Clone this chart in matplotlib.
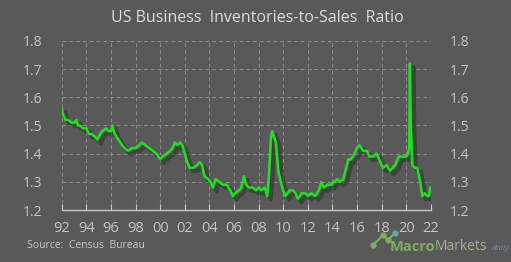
import numpy as np
import matplotlib
matplotlib.use("Agg")
import matplotlib.pyplot as plt
import matplotlib.patheffects as pe

# Inventories-to-sales ratio
years = [
    1992.0, 1992.1, 1992.3, 1992.5, 1992.8, 1993.0, 1993.2, 1993.3, 1993.5, 1993.7,
    1994.0, 1994.2, 1994.4, 1994.7, 1994.9, 1995.1, 1995.3, 1995.6, 1995.8, 1996.0,
    1996.1, 1996.3, 1996.6, 1996.9, 1997.1, 1997.4, 1997.7, 1998.0, 1998.3, 1998.5,
    1998.8, 1999.1, 1999.4, 1999.7, 2000.0, 2000.2, 2000.5, 2000.8, 2001.0, 2001.2,
    2001.4, 2001.6, 2001.8, 2002.0, 2002.2, 2002.4, 2002.7, 2003.0, 2003.2, 2003.4,
    2003.6, 2003.9, 2004.1, 2004.3, 2004.5, 2004.8, 2005.1, 2005.4, 2005.7, 2005.9,
    2006.1, 2006.4, 2006.6, 2006.8, 2007.0, 2007.2, 2007.5, 2007.8, 2008.0, 2008.2,
    2008.5, 2008.7, 2008.85, 2009.0, 2009.1, 2009.25, 2009.4, 2009.6, 2009.8, 2010.0,
    2010.2, 2010.5, 2010.8, 2011.0, 2011.2, 2011.5, 2011.8, 2012.0, 2012.3, 2012.6,
    2012.9, 2013.1, 2013.3, 2013.6, 2013.9, 2014.1, 2014.4, 2014.6, 2014.9, 2015.0,
    2015.3, 2015.5, 2015.8, 2016.0, 2016.2, 2016.5, 2016.8, 2017.0, 2017.3, 2017.6,
    2017.9, 2018.1, 2018.4, 2018.7, 2018.9, 2019.1, 2019.4, 2019.7, 2020.0, 2020.15,
    2020.25, 2020.3, 2020.38, 2020.5, 2020.7, 2020.9, 2021.0, 2021.15, 2021.3, 2021.5,
    2021.7, 2021.85, 2021.95,
]
ratio = [
    1.56, 1.54, 1.52, 1.52, 1.51, 1.51, 1.52, 1.50, 1.50, 1.49,
    1.49, 1.47, 1.47, 1.46, 1.45, 1.47, 1.48, 1.49, 1.48, 1.48,
    1.50, 1.47, 1.45, 1.43, 1.42, 1.41, 1.42, 1.42, 1.43, 1.44,
    1.43, 1.42, 1.41, 1.40, 1.38, 1.39, 1.40, 1.41, 1.42, 1.44,
    1.43, 1.44, 1.43, 1.40, 1.37, 1.35, 1.35, 1.36, 1.37, 1.36,
    1.32, 1.31, 1.30, 1.28, 1.31, 1.30, 1.29, 1.29, 1.27, 1.25,
    1.26, 1.27, 1.28, 1.32, 1.29, 1.28, 1.28, 1.27, 1.28, 1.27,
    1.28, 1.25, 1.33, 1.46, 1.48, 1.46, 1.44, 1.34, 1.30, 1.27,
    1.25, 1.27, 1.27, 1.26, 1.24, 1.26, 1.26, 1.25, 1.26, 1.25,
    1.27, 1.30, 1.28, 1.29, 1.29, 1.30, 1.31, 1.30, 1.31, 1.33,
    1.38, 1.38, 1.40, 1.42, 1.43, 1.41, 1.41, 1.39, 1.39, 1.40,
    1.37, 1.35, 1.36, 1.34, 1.35, 1.36, 1.39, 1.39, 1.39, 1.40,
    1.42, 1.72, 1.50, 1.36, 1.35, 1.35, 1.33, 1.30, 1.25, 1.26,
    1.25, 1.25, 1.28,
]
xtick_years = list(range(1992, 2023, 2))
xtick_labels = ["92", "94", "96", "98", "00", "02", "04", "06", "08", "10",
                "12", "14", "16", "18", "20", "22"]
yticks = [1.2, 1.3, 1.4, 1.5, 1.6, 1.7, 1.8]

bg = "#595959"
lab_col = "#c4c4c4"
plt.rcParams['font.family'] = ['Open Sans', 'DejaVu Sans']

fig = plt.figure(figsize=(5.11, 2.62), dpi=100, facecolor=bg)
ax = fig.add_axes([0.121, 0.198, 0.722, 0.646], facecolor=bg)

# line with a soft drop shadow
ax.plot(years, ratio, color="#1fe21f", lw=1.8, zorder=3,
        path_effects=[pe.SimpleLineShadow(offset=(2.5, -2.5), shadow_color="#2a2a2a", alpha=0.5, linewidth=3),
                      pe.Normal()])

ax.set_xlim(1992, 2022)
ax.set_ylim(1.2, 1.8)
ax.set_xticks(xtick_years)
ax.set_xticklabels(xtick_labels)
ax.set_yticks(yticks)
ax.set_yticklabels(["%.1f" % v for v in yticks])

for y in yticks[1:]:
    ax.axhline(y, color="#8c8c8c", lw=0.7, ls=(0, (4, 3)), zorder=1)
for x in xtick_years:
    ax.axvline(x, color="#8c8c8c", lw=0.7, ls=(0, (4, 3)), zorder=1)

for s in ["top", "left", "right"]:
    ax.spines[s].set_visible(False)
ax.spines["bottom"].set_color("#c8c8c8")
ax.spines["bottom"].set_linewidth(1.0)

ax.tick_params(axis="x", direction="in", length=4, width=0.8, colors="#c8c8c8",
               labelsize=10.5, pad=8)
ax.tick_params(axis="y", length=0, labelsize=10, pad=14,
               labelleft=True, labelright=True)
for lab in ax.get_xticklabels() + ax.get_yticklabels():
    lab.set_color(lab_col)

fig.text(0.503, 0.933, "US Business  Inventories-to-Sales  Ratio", ha="center", va="center",
         color="#dcdcdc", fontsize=11.5)
fig.text(0.053, 0.062, "Source:  Census  Bureau", ha="left", va="center",
         color="#c8c8c8", fontsize=7.5)

# logo (cut at the right edge, as in the original)
fig.lines.append(plt.Line2D([0.730, 0.750, 0.759, 0.773], [0.065, 0.103, 0.084, 0.111],
                            transform=fig.transFigure, color="#7fae5d", lw=1.5))
fig.lines.append(plt.Line2D([0.730, 0.750, 0.759], [0.065, 0.103, 0.084],
                            transform=fig.transFigure, color="#7fae5d", lw=0,
                            marker="o", markersize=3.5))
fig.lines.append(plt.Line2D([0.773], [0.111], transform=fig.transFigure, color="#5fa8a8",
                            lw=0, marker="o", markersize=3.5))
fig.text(0.762, 0.058, "Macro", ha="left", va="center", color="#7fae5d",
         fontsize=10.5, fontweight="bold")
fig.text(0.850, 0.058, "Markets", ha="left", va="center", color="#9db08f", fontsize=10)
fig.text(0.962, 0.05, "daily", ha="left", va="center", color="#6f93aa",
         fontsize=6, style="italic")

fig.savefig("out.png", dpi=100, facecolor=bg)
